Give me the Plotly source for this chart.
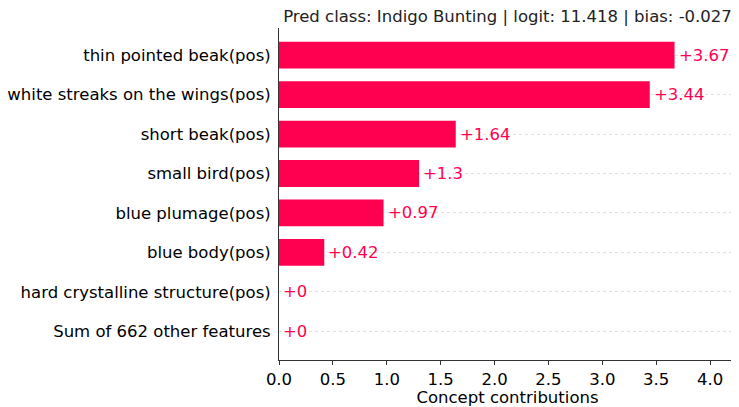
import plotly.graph_objects as go

features = [
    "thin pointed beak(pos)",
    "white streaks on the wings(pos)",
    "short beak(pos)",
    "small bird(pos)",
    "blue plumage(pos)",
    "blue body(pos)",
    "hard crystalline structure(pos)",
    "Sum of 662 other features",
]
contributions = [3.67, 3.44, 1.64, 1.3, 0.97, 0.42, 0, 0]
x_ticks = [0.0, 0.5, 1.0, 1.5, 2.0, 2.5, 3.0, 3.5, 4.0]
title_text = "Pred class: Indigo Bunting | logit: 11.418 | bias: -0.027"
x_title = "Concept contributions"

RED = "#ff0051"
FONT = "DejaVu Sans"
FS = 16.5

ypos = list(range(len(features)))

fig = go.Figure()
fig.add_trace(go.Bar(
    x=contributions, y=ypos, orientation="h",
    marker=dict(color=RED, line=dict(width=0)),
    width=0.68, hoverinfo="skip",
))

for yv, v in zip(ypos, contributions):
    fig.add_annotation(
        x=v, y=yv, text=f"{v:+g}", showarrow=False,
        xanchor="left", yanchor="middle", xshift=2,
        font=dict(family=FONT, size=FS, color=RED),
    )

# page body has an 8px margin; size the figure so the plot lands where the reference has it
fig.update_layout(
    width=731, height=399,
    margin=dict(l=271, r=3, t=20, b=47, autoexpand=False),
    paper_bgcolor="white", plot_bgcolor="white",
    showlegend=False,
    font=dict(family=FONT, size=FS, color="black"),
    title=dict(text=title_text, x=0.5, xref="paper", xanchor="center",
               y=1, yref="paper", yanchor="bottom", pad=dict(b=6),
               font=dict(family=FONT, size=FS, color="#222222")),
)

fig.update_xaxes(
    range=[0, 4.24], tickvals=x_ticks, ticktext=[f"{t:.1f}" for t in x_ticks],
    ticks="outside", ticklen=4, tickwidth=1, tickcolor="#333333",
    showline=True, linecolor="#333333", linewidth=1,
    showgrid=False, zeroline=False, automargin=False,
    title=dict(text=x_title, standoff=0, font=dict(family=FONT, size=FS)),
    tickfont=dict(family=FONT, size=FS, color="black"),
)
fig.update_yaxes(
    range=[7.73, -0.69], tickvals=ypos, ticktext=features,
    ticks="", showline=True, linecolor="#333333", linewidth=1,
    showgrid=True, gridcolor="#e0e0e0", griddash="dot", gridwidth=1,
    zeroline=False, automargin=False, ticklabelstandoff=4,
    tickfont=dict(family=FONT, size=FS, color="black"),
)

fig.write_html("out.html")
